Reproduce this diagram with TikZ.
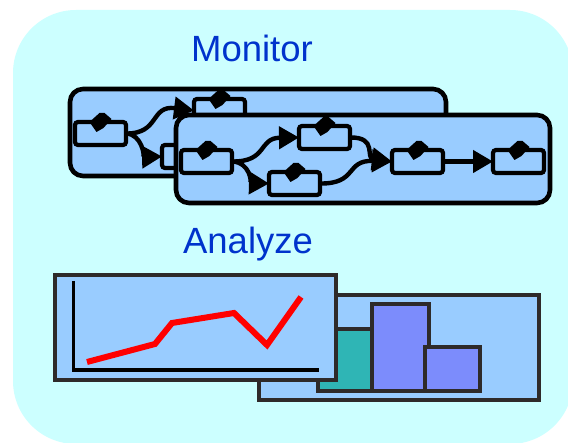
\documentclass[tikz,border=0pt]{standalone}
\usepackage{fontspec}
\setmainfont{Liberation Sans}
\usetikzlibrary{arrows.meta}
\definecolor{bgcyan}{HTML}{CCFFFF}
\definecolor{panelblue}{HTML}{99CCFF}
\definecolor{titleblue}{HTML}{0033CC}
\definecolor{framedark}{HTML}{2E2A2A}
\definecolor{barteal}{HTML}{2FB5B5}
\definecolor{barblue}{HTML}{7C8CFC}
\tikzset{
  x=1pt,y=-1pt,
  flowpanel/.style={draw=black,fill=panelblue,line width=4.6pt,rounded corners=13pt},
  task/.style={draw=black,fill=panelblue,line width=4.2pt,rounded corners=3pt,inner sep=0pt,outer sep=0pt,minimum width=51pt,minimum height=23pt,anchor=north west},
  flowline/.style={draw=black,line width=4.4pt,-{Triangle[length=20pt,width=22pt]}},
  framebox/.style={draw=framedark,fill=panelblue,line width=4.2pt},
  barbox/.style={draw=framedark,line width=4.2pt},
  title/.style={text=titleblue,font=\fontsize{36.5}{40}\selectfont,inner sep=0pt,anchor=base},
}
\newcommand{\knob}[1]{\fill[black] ([shift={(-11,0)}]#1.north) -- ([shift={(-1,-9)}]#1.north) -- ([shift={(4,-9)}]#1.north) -- ([shift={(11,-3)}]#1.north) -- ([shift={(3,6)}]#1.north) -- ([shift={(-4,10)}]#1.north) -- cycle;}
\begin{document}
\begin{tikzpicture}
\useasboundingbox (0,0) rectangle (568,443);
\fill[white] (0,0) rectangle (568,443);
\fill[bgcyan,rounded corners=63pt] (13,10) rectangle (573,444);
\node[title] (mon) at (252,62) {Monitor};
\node[title] (ana) at (248,254) {Analyze};
% back workflow
\draw[flowpanel] (70,89) rectangle (446,176);
\node[task] (a1) at (75,122) {};
\node[task] (a2) at (194,99) {};
\node[task] (a3) at (162,145) {};
\draw[flowline] (a1.east) .. controls (160,134) and (150,105) .. (a2.west);
\draw[flowline] (a1.east) .. controls (142,134) and (145,157) .. (a3.west);
\knob{a1}\knob{a2}
% front workflow
\draw[flowpanel] (176,115) rectangle (550,203);
\node[task] (b1) at (181,150) {};
\node[task] (b2) at (299,126) {};
\node[task] (b3) at (269,172) {};
\node[task] (b4) at (392,150) {};
\node[task] (b5) at (493,150) {};
\draw[flowline] (b1.east) .. controls (268,162) and (258,138) .. (b2.west);
\draw[flowline] (b1.east) .. controls (250,162) and (252,183) .. (b3.west);
\draw[flowline] (b2.east) .. controls (378,137) and (365,158) .. (b4.west);
\draw[flowline] (b3.east) .. controls (358,184) and (345,160) .. (b4.west);
\draw[flowline] (b4.east) -- (b5.west);
\knob{b1}\knob{b2}\knob{b3}\knob{b4}\knob{b5}
% charts
\draw[framebox] (259,295) rectangle (539,400);
\draw[barbox,fill=barteal] (318,329) rectangle (372,391);
\draw[barbox,fill=barblue] (372,304) rectangle (429,391);
\draw[barbox,fill=barblue] (425,347) rectangle (480,391);
\draw[framebox] (55,275) rectangle (336,380);
\draw[black,line width=3.8pt] (73.5,281) -- (73.5,370) -- (319,370);
\draw[red,line width=6pt] (87,362) -- (155,344) -- (172,323) -- (234,313) -- (267,345) -- (301,297);
\end{tikzpicture}
\end{document}
